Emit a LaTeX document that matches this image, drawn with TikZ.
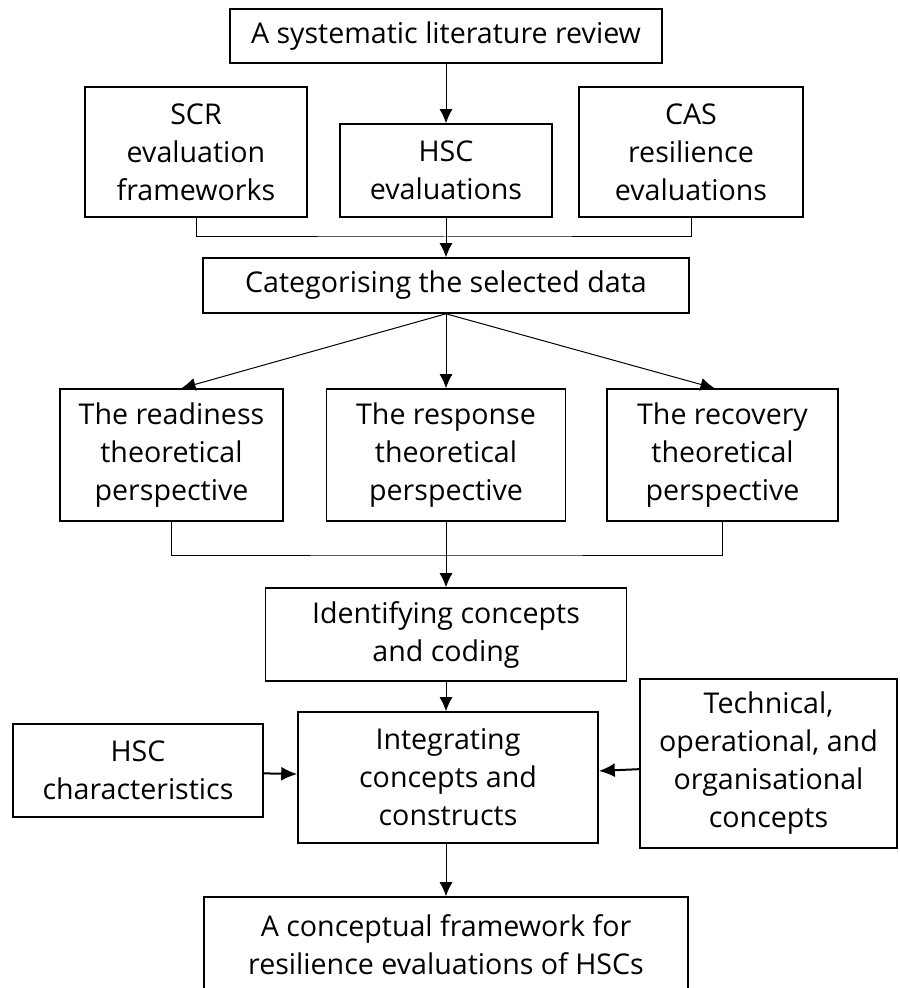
\documentclass[tikz,border=0pt]{standalone}
\usepackage{fontspec}
\setmainfont{Open Sans}
\usetikzlibrary{arrows.meta}
\tikzset{
  stage/.style={draw, line width=0.8pt, inner sep=0pt, align=center,
    font=\fontsize{14.3}{19}\selectfont},
  flow/.style={-{Latex[length=7pt,width=6.5pt]}, line width=0.5pt},
  side/.style={-{Latex[length=8pt,width=7pt]}, line width=1pt},
}
\begin{document}
\begin{tikzpicture}[x=0.5pt, y=-0.5pt]
  \useasboundingbox (0,0) rectangle (899,988);

  % Literature review and its three sources
  \node[stage, minimum width=216pt, minimum height=27pt] (review) at (446,36) {A systematic literature review};
  \node[stage, minimum width=111pt, minimum height=65pt] (scr) at (196,152) {SCR\\evaluation\\frameworks};
  \node[stage, minimum width=106pt, minimum height=46.5pt] (hsc) at (446,170.5) {HSC\\evaluations};
  \node[stage, minimum width=112pt, minimum height=65pt] (cas) at (691,152) {CAS\\resilience\\evaluations};
  \node[stage, minimum width=243pt, minimum height=27.5pt] (categ) at (446,285.5) {Categorising the selected data};

  % Theoretical perspectives
  \node[stage, minimum width=111.5pt, minimum height=66pt] (ready) at (171.5,455) {The readiness\\theoretical\\perspective};
  \node[stage, minimum width=119.5pt, minimum height=66pt] (resp) at (446,455) {The response\\theoretical\\perspective};
  \node[stage, minimum width=115.5pt, minimum height=66pt] (recov) at (722.5,455) {The recovery\\theoretical\\perspective};
  \node[stage, minimum width=180.5pt, minimum height=46.5pt] (ident) at (446,634.5) {Identifying concepts\\and coding};

  % Integration step
  \node[stage, minimum width=150pt, minimum height=65.5pt] (integ) at (448,777.5) {Integrating\\concepts and\\constructs};
  \node[stage, minimum width=125pt, minimum height=46.5pt] (hscchar) at (138,770.5) {HSC\\characteristics};
  \node[stage, minimum width=128.5pt, minimum height=84.5pt] (tech) at (768.5,763.5) {Technical,\\operational, and\\organisational\\concepts};
  \node[stage, minimum width=242pt, minimum height=48pt] (frame) at (446,945) {A conceptual framework for\\resilience evaluations of HSCs};

  % Junctions of the merging lines
  \coordinate (join1) at (446,237);
  \coordinate (join2) at (446,555);

  % Connectors
  \draw[flow] (review) -- (hsc);
  \draw[line width=0.5pt] (scr.south) |- (join1) -| (cas.south);
  \draw[flow] (hsc) -- (categ);
  \draw[flow] (categ.south) -- ([xshift=5pt]ready.north);
  \draw[flow] (categ) -- (resp);
  \draw[flow] (categ.south) -- ([xshift=-4pt]recov.north);
  \draw[line width=0.5pt] (ready.south) |- (join2) -| (recov.south);
  \draw[flow] (resp) -- (ident);
  \draw[flow] (ident.south) -- (ident.south |- integ.north);
  \draw[side] (hscchar) -- (integ);
  \draw[side] (tech) -- (integ);
  \draw[flow] (integ.south -| frame.north) -- (frame);
\end{tikzpicture}
\end{document}
